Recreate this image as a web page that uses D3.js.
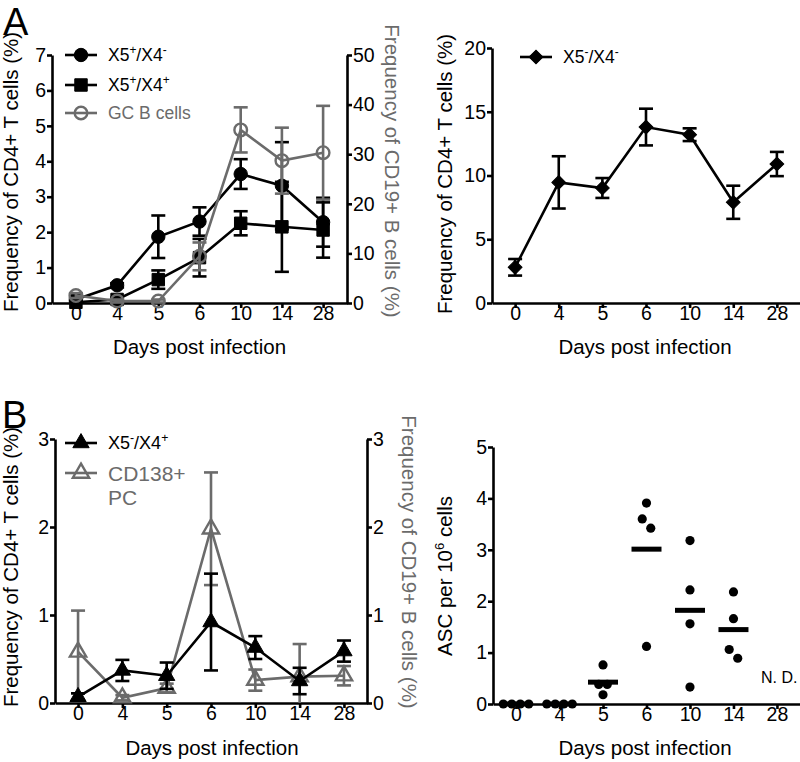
<!DOCTYPE html>
<html><head><meta charset="utf-8">
<script src="https://cdn.jsdelivr.net/npm/d3@7"></script>
<style>body{margin:0;background:#fff}</style>
</head><body>
<svg id="c" width="800" height="762"></svg>
<script>
// ---------- DATA ----------
const days = ["0","4","5","6","10","14","28"];
// Panel A (left)
const x5pX4mMean = [0.10, 0.50, 1.87, 2.30, 3.64, 3.31, 2.28];
const x5pX4mSem  = [0.05, 0.06, 0.60, 0.40, 0.42, 1.23, 0.69];
const x5pX4pMean = [0.02, 0.10, 0.66, 1.28, 2.25, 2.15, 2.06];
const x5pX4pSem  = [0.03, 0.05, 0.26, 0.53, 0.34, 1.27, 0.78];
const gcBMean    = [1.5, 0.4, 0.4, 9.4, 34.9, 28.7, 30.3];
const gcBSem     = [0.5, 0.3, 0.3, 2.8, 4.55, 6.65, 9.45];
const leftTicksA1 = [0,1,2,3,4,5,6,7];
const rightTicksA1 = [0,10,20,30,40,50];
// Panel A (right)
const x5mX4mMean = [2.8, 9.46, 9.02, 13.8, 13.2, 7.9, 10.9];
const x5mX4mSem  = [0.65, 2.05, 0.78, 1.44, 0.50, 1.30, 0.95];
const ticksA2 = [0,5,10,15,20];
// Panel B (left)
const x5mX4pMean = [0.07, 0.37, 0.31, 0.92, 0.63, 0.25, 0.59];
const x5mX4pSem  = [0.04, 0.12, 0.15, 0.55, 0.13, 0.15, 0.12];
const cd138Mean  = [0.58, 0.06, 0.17, 1.98, 0.26, 0.30, 0.31];
const cd138Sem   = [0.47, 0.03, 0.05, 0.64, 0.12, 0.37, 0.11];
const ticksB1 = [0,1,2,3];
// Panel B (right) ASC per 10^6 cells, individual mice
const asc = [
  [0, 0, 0, 0],
  [0, 0, 0, 0],
  [0.76, 0.38, 0.38, 0.18],
  [3.91, 3.60, 3.42, 1.12],
  [3.18, 2.22, 1.56, 0.33],
  [2.18, 1.66, 1.06, 0.89],
  []
];
const ticksB2 = [0,1,2,3,4,5];

// ---------- STYLE ----------
const FONT = '"Liberation Sans", Arial, Helvetica, sans-serif';
const GRAY = "#6b6b6b";
const LW = 2.6;
const TICK_FS = 19.5;
const TITLE_FS = 20.5;
const svg = d3.select("#c").attr("font-family", FONT);
const fmt = d3.format("d");

function styleAxis(g, fs) {
  g.attr("font-family", FONT);
  g.select(".domain").attr("stroke", "#000").attr("stroke-width", LW);
  g.selectAll(".tick line").attr("stroke", "#000").attr("stroke-width", LW);
  g.selectAll(".tick text").attr("font-size", fs).attr("fill", "#000");
}

function xAxis(x, y0) {
  const g = svg.append("g").attr("transform", `translate(0,${y0})`)
    .call(d3.axisBottom(x).tickSize(5).tickSizeOuter(0).tickPadding(-2));
  styleAxis(g, TICK_FS);
  return g;
}
function yAxisLeft(y, x0, ticks) {
  const g = svg.append("g").attr("transform", `translate(${x0},0)`)
    .call(d3.axisLeft(y).tickValues(ticks).tickFormat(fmt).tickSize(5).tickSizeOuter(0).tickPadding(1));
  styleAxis(g, TICK_FS);
  return g;
}
function yAxisRight(y, x0, ticks) {
  const g = svg.append("g").attr("transform", `translate(${x0},0)`)
    .call(d3.axisRight(y).tickValues(ticks).tickFormat(fmt).tickSize(5).tickSizeOuter(0).tickPadding(1));
  styleAxis(g, TICK_FS);
  return g;
}
function title(x, y, txt, rot, color, fs) {
  return svg.append("text").attr("transform", `translate(${x},${y}) rotate(${rot||0})`)
    .attr("text-anchor", "middle").attr("font-size", fs || TITLE_FS)
    .attr("fill", color || "#000").text(txt);
}

function series(x, y, mean, sem, opt) {
  const g = svg.append("g");
  const col = opt.color;
  mean.forEach((m, i) => {
    const cx = x(days[i]);
    const lo = Math.max(0, m - sem[i]), hi = m + sem[i];
    g.append("line").attr("x1", cx).attr("x2", cx).attr("y1", y(lo)).attr("y2", y(hi))
      .attr("stroke", col).attr("stroke-width", LW);
    [lo, hi].forEach(v => {
      if (v <= 0) return;
      g.append("line").attr("x1", cx - 7).attr("x2", cx + 7).attr("y1", y(v)).attr("y2", y(v))
        .attr("stroke", col).attr("stroke-width", LW);
    });
  });
  g.append("path").datum(mean)
    .attr("d", d3.line().x((d, i) => x(days[i])).y(d => y(d)))
    .attr("fill", "none").attr("stroke", col).attr("stroke-width", LW);
  mean.forEach((m, i) => marker(g, x(days[i]), y(m), opt));
  return g;
}

function marker(g, cx, cy, opt) {
  const sym = d3.symbol().type(opt.type).size(opt.size);
  g.append("path").attr("d", sym())
    .attr("transform", `translate(${cx},${cy}) rotate(${opt.rot || 0})`)
    .attr("fill", opt.open ? "none" : opt.color)
    .attr("stroke", opt.color).attr("stroke-width", opt.open ? 2.4 : 1);
}

function legendRow(x, y, opt, parts, color, fs) {
  const g = svg.append("g");
  g.append("line").attr("x1", x).attr("x2", x + 32).attr("y1", y).attr("y2", y)
    .attr("stroke", opt.color).attr("stroke-width", LW);
  marker(g, x + 16, y, opt);
  const f = fs || 17.5;
  supText(x + 43, y + f * 0.36, parts, color, f);
}

function supText(x, y, parts, color, fs) {
  const t = svg.append("text").attr("x", x).attr("y", y).attr("font-size", fs).attr("fill", color);
  let shifted = false;
  parts.forEach(([s, sup]) => {
    const sp = t.append("tspan").text(s);
    if (sup && !shifted) { sp.attr("dy", -7).attr("font-size", fs * 0.68); shifted = true; }
    else if (sup && shifted) { sp.attr("font-size", fs * 0.68); }
    else if (!sup && shifted) { sp.attr("dy", 7); shifted = false; }
  });
  return t;
}

const circleF = {type: d3.symbolCircle, size: 140, color: "#000"};
const squareF = {type: d3.symbolSquare, size: 155, color: "#000"};
const circleO = {type: d3.symbolCircle, size: 125, color: GRAY, open: true};
const diamondF = {type: d3.symbolSquare, size: 95, color: "#000", rot: 45};
const triF = {type: d3.symbolTriangle, size: 115, color: "#000"};
const triO = {type: d3.symbolTriangle, size: 115, color: GRAY, open: true};

// ---------- PANEL A LEFT ----------
{
  const x = d3.scalePoint().domain(days).range([52, 347]).padding(0.58);
  const y = d3.scaleLinear().domain([0, 7]).range([303, 55]);
  const yr = d3.scaleLinear().domain([0, 50]).range([303, 55]);
  xAxis(x, 303);
  yAxisLeft(y, 52, leftTicksA1);
  yAxisRight(yr, 347, rightTicksA1);
  series(x, y, x5pX4pMean, x5pX4pSem, squareF);
  series(x, y, x5pX4mMean, x5pX4mSem, circleF);
  series(x, yr, gcBMean, gcBSem, circleO);
  title(199.5, 354, "Days post infection");
  title(18, 172, "Frequency of CD4+ T cells (%)", -90);
  title(385, 171, "Frequency of CD19+ B cells (%)", 90, GRAY);
  legendRow(65, 55, circleF, [["X5"],["+",1],["/X4"],["-",1]], "#000");
  legendRow(65, 85, squareF, [["X5"],["+",1],["/X4"],["+",1]], "#000");
  legendRow(65, 113, circleO, [["GC B cells"]], GRAY);
}

// ---------- PANEL A RIGHT ----------
{
  const x = d3.scalePoint().domain(days).range([492, 800]).padding(0.53);
  const y = d3.scaleLinear().domain([0, 20]).range([303, 48]);
  xAxis(x, 303);
  yAxisLeft(y, 492, ticksA2);
  series(x, y, x5mX4mMean, x5mX4mSem, diamondF);
  title(645, 354, "Days post infection");
  title(452, 174, "Frequency of CD4+ T cells (%)", -90);
  legendRow(520, 57, diamondF, [["X5"],["-",1],["/X4"],["-",1]], "#000");
}

// ---------- PANEL B LEFT ----------
{
  const x = d3.scalePoint().domain(days).range([55, 367]).padding(0.52);
  const y = d3.scaleLinear().domain([0, 3]).range([703, 439]);
  const yr = d3.scaleLinear().domain([0, 3]).range([703, 439]);
  xAxis(x, 703);
  yAxisLeft(y, 55, ticksB1);
  yAxisRight(yr, 367, ticksB1);
  series(x, yr, cd138Mean, cd138Sem, triO);
  series(x, y, x5mX4pMean, x5mX4pSem, triF);
  title(212, 755, "Days post infection");
  title(18, 567, "Frequency of CD4+ T cells (%)", -90);
  title(402, 562, "Frequency of CD19+ B cells (%)", 90, GRAY);
  legendRow(65, 443, triF, [["X5"],["-",1],["/X4"],["+",1]], "#000", 18);
  legendRow(65, 473, triO, [["CD138+"]], GRAY, 21);
  svg.append("text").attr("x", 108).attr("y", 505).attr("font-size", 21).attr("fill", GRAY).text("PC");
}

// ---------- PANEL B RIGHT ----------
{
  const x = d3.scalePoint().domain(days).range([493, 800]).padding(0.53);
  const y = d3.scaleLinear().domain([0, 5]).range([704, 447]);
  xAxis(x, 704);
  yAxisLeft(y, 493, ticksB2);
  const r = 4.6, gap = 8.5;
  asc.forEach((vals, i) => {
    const cx = x(days[i]);
    if (!vals.length) {
      svg.append("text").attr("x", cx - 16).attr("y", 683).attr("font-size", 16).text("N. D.");
      return;
    }
    const pts = vals.map(v => ({v, py: y(v)})).sort((a, b) => a.py - b.py);
    const groups = [];
    pts.forEach(p => {
      const gLast = groups[groups.length - 1];
      if (gLast && p.py - gLast[gLast.length - 1].py < 2 * r + 0.5) gLast.push(p);
      else groups.push([p]);
    });
    groups.forEach(gr => {
      gr.forEach((p, k) => {
        svg.append("circle").attr("cx", cx + (k - (gr.length - 1) / 2) * gap).attr("cy", p.py)
          .attr("r", r).attr("fill", "#000");
      });
    });
    const m = d3.mean(vals);
    svg.append("line").attr("x1", cx - 15).attr("x2", cx + 15).attr("y1", y(m)).attr("y2", y(m))
      .attr("stroke", "#000").attr("stroke-width", 5);
  });
  title(645, 755, "Days post infection");
  const t = svg.append("text").attr("transform", "translate(452,576) rotate(-90)")
    .attr("text-anchor", "middle").attr("font-size", TITLE_FS);
  t.append("tspan").text("ASC per 10");
  t.append("tspan").text("6").attr("dy", -8).attr("font-size", 13);
  t.append("tspan").text(" cells").attr("dy", 8);
}

// Panel letters
svg.append("text").attr("x", 3).attr("y", 35).attr("font-size", 38).text("A");
svg.append("text").attr("x", 2).attr("y", 428).attr("font-size", 38).text("B");
</script>
</body></html>
